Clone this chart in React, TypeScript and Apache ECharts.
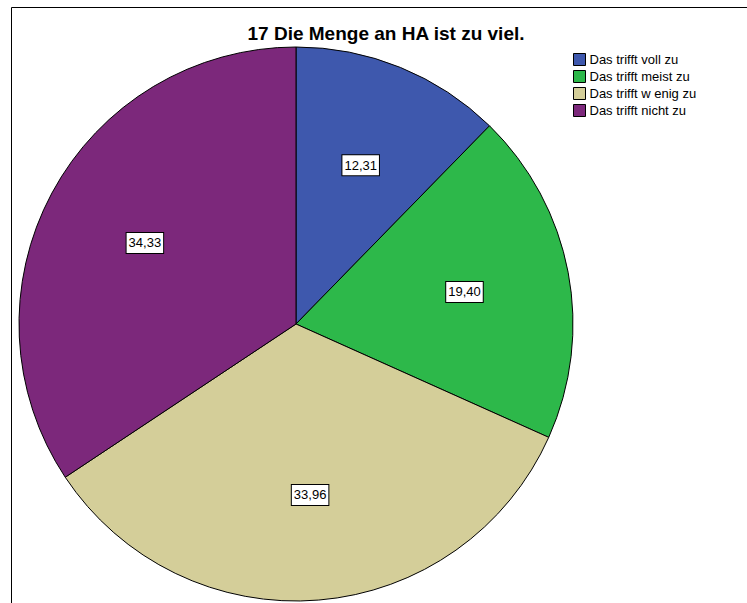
import React, { useEffect, useRef } from "react";
import * as echarts from "echarts";

const title = "17 Die Menge an HA ist zu viel.";
const categories = [
  "Das trifft voll zu",
  "Das trifft meist zu",
  "Das trifft w enig zu",
  "Das trifft nicht zu",
];
const values = [12.31, 19.4, 33.96, 34.33];
const colors = ["#3e58ad", "#2db84a", "#d4ce99", "#7c287b"];

export default function App() {
  const ref = useRef<HTMLDivElement>(null);
  useEffect(() => {
    if (!ref.current) return;
    const chart = echarts.init(ref.current, null, { renderer: "svg" });
    const data = categories.map((name, i) => ({
      name,
      value: values[i],
      itemStyle: { color: colors[i] },
    }));
    chart.setOption({
      animation: false,
      backgroundColor: "#ffffff",
      title: {
        text: title,
        left: 386,
        textAlign: "center",
        top: 24,
        padding: 0,
        textStyle: {
          fontFamily: "Liberation Sans, Arial, sans-serif",
          fontSize: 19,
          fontWeight: "bold",
          color: "#000",
        },
      },
      legend: {
        orient: "vertical",
        left: 573,
        top: 53,
        padding: 0,
        icon: "rect",
        itemWidth: 12,
        itemHeight: 12,
        itemGap: 4,
        selectedMode: false,
        itemStyle: { borderColor: "#000", borderWidth: 1 },
        textStyle: {
          fontFamily: "Liberation Sans, Arial, sans-serif",
          fontSize: 13,
          lineHeight: 12,
          color: "#000",
          padding: [0, 0, 0, -1],
        },
        data: categories,
      },
      graphic: [
        { type: "line", shape: { x1: 11.5, y1: 7.5, x2: 747, y2: 7.5 }, style: { stroke: "#000", lineWidth: 1 } },
        { type: "line", shape: { x1: 11.5, y1: 7.5, x2: 11.5, y2: 603 }, style: { stroke: "#000", lineWidth: 1 } },
      ],
      series: [
        {
          type: "pie",
          center: [296, 324],
          radius: [0, 277],
          startAngle: 90,
          clockwise: true,
          silent: true,
          label: { show: false },
          labelLine: { show: false },
          itemStyle: { borderColor: "#000", borderWidth: 1 },
          data,
        },
        {
          type: "pie",
          center: [296, 324],
          radius: [60, 277],
          startAngle: 90,
          clockwise: true,
          silent: true,
          itemStyle: { color: "transparent", borderWidth: 0 },
          label: {
            show: true,
            position: "inside",
            formatter: (p: any) => p.value.toFixed(2).replace(".", ","),
            fontFamily: "Liberation Sans, Arial, sans-serif",
            fontSize: 13,
            color: "#000",
            backgroundColor: "#fff",
            borderColor: "#000",
            borderWidth: 1,
            padding: [4, 2, 3, 2],
          },
          labelLine: { show: false },
          data: categories.map((name, i) => ({ name, value: values[i] })),
        },
      ],
    });
    return () => chart.dispose();
  }, []);
  return (
    <div
      ref={ref}
      style={{ position: "fixed", left: 0, top: 0, width: 747, height: 603 }}
    />
  );
}
